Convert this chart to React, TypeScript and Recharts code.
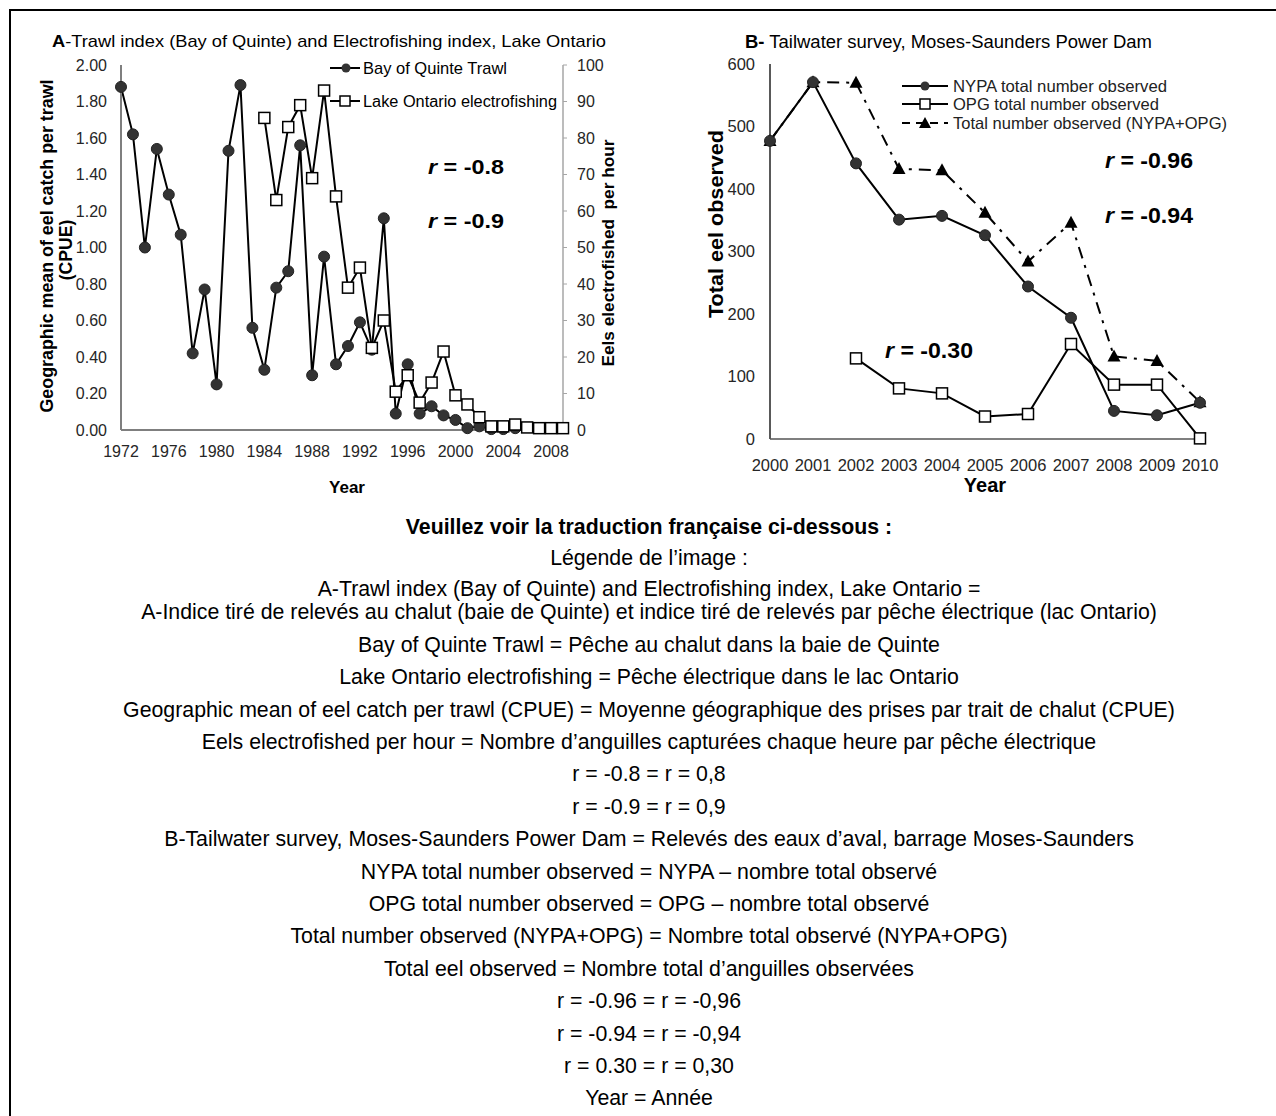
import React from 'react';
import { LineChart, Line, XAxis, YAxis } from 'recharts';

// ---------- Panel A data ----------
const yearsA = [1972, 1973, 1974, 1975, 1976, 1977, 1978, 1979, 1980, 1981, 1982, 1983, 1984, 1985, 1986, 1987, 1988, 1989, 1990, 1991, 1992, 1993, 1994, 1995, 1996, 1997, 1998, 1999, 2000, 2001, 2002, 2003, 2004, 2005, 2006, 2007, 2008, 2009];
const trawlCpue = [1.88, 1.62, 1.0, 1.54, 1.29, 1.07, 0.42, 0.77, 0.25, 1.53, 1.89, 0.56, 0.33, 0.78, 0.87, 1.56, 0.3, 0.95, 0.36, 0.46, 0.59, 0.44, 1.16, 0.09, 0.36, 0.09, 0.13, 0.08, 0.055, 0.01, 0.02, 0.005, 0.005, 0.01, null, null, null, null];
const electroPerHour = [null, null, null, null, null, null, null, null, null, null, null, null, 85.5, 63, 83, 89, 69, 93, 64, 39, 44.5, 22.5, 30, 10.5, 15, 7.5, 13, 21.5, 9.5, 7, 3.5, 1, 1, 1.5, 0.7, 0.5, 0.5, 0.5];
const yearTicksA = [1972, 1976, 1980, 1984, 1988, 1992, 1996, 2000, 2004, 2008];
const cpueTicks = [0, 0.2, 0.4, 0.6, 0.8, 1.0, 1.2, 1.4, 1.6, 1.8, 2.0];
const electroTicks = [0, 10, 20, 30, 40, 50, 60, 70, 80, 90, 100];

// ---------- Panel B data ----------
const yearsB = [2000, 2001, 2002, 2003, 2004, 2005, 2006, 2007, 2008, 2009, 2010];
const nypaObserved = [477, 571, 441, 351, 357, 326, 244, 194, 45, 38, 58];
const opgObserved = [null, null, 129, 81, 73, 36, 40, 152, 87, 87, 1];
const totalObserved = [477, 571, 570, 432, 430, 362, 284, 346, 132, 125, 59];
const eelTicks = [0, 100, 200, 300, 400, 500, 600];

// ---------- French caption ----------
const captionLines = [
  { t: 'Veuillez voir la traduction française ci-dessous :', b: true, y: 527 },
  { t: 'Légende de l’image :', y: 558 },
  { t: 'A-Trawl index (Bay of Quinte) and Electrofishing index, Lake Ontario =', y: 589 },
  { t: 'A-Indice tiré de relevés au chalut (baie de Quinte) et indice tiré de relevés par pêche électrique (lac Ontario)', y: 612 },
  { t: 'Bay of Quinte Trawl = Pêche au chalut dans la baie de Quinte', y: 645 },
  { t: 'Lake Ontario electrofishing = Pêche électrique dans le lac Ontario', y: 677 },
  { t: 'Geographic mean of eel catch per trawl (CPUE) = Moyenne géographique des prises par trait de chalut (CPUE)', y: 710 },
  { t: 'Eels electrofished per hour = Nombre d’anguilles capturées chaque heure par pêche électrique', y: 742 },
  { t: 'r = -0.8 = r = 0,8', y: 774 },
  { t: 'r = -0.9 = r = 0,9', y: 807 },
  { t: 'B-Tailwater survey, Moses-Saunders Power Dam = Relevés des eaux d’aval, barrage Moses-Saunders', y: 839 },
  { t: 'NYPA total number observed = NYPA – nombre total observé', y: 872 },
  { t: 'OPG total number observed = OPG – nombre total observé', y: 904 },
  { t: 'Total number observed (NYPA+OPG) = Nombre total observé (NYPA+OPG)', y: 936 },
  { t: 'Total eel observed = Nombre total d’anguilles observées', y: 969 },
  { t: 'r = -0.96 = r = -0,96', y: 1001 },
  { t: 'r = -0.94 = r = -0,94', y: 1034 },
  { t: 'r = 0.30 = r = 0,30', y: 1066 },
  { t: 'Year = Année', y: 1098 },
];

const dataA = yearsA.map((year, i) => ({ year, trawl: trawlCpue[i], electro: electroPerHour[i] }));
const dataB = yearsB.map((year, i) => ({ year, nypa: nypaObserved[i], opg: opgObserved[i], total: totalObserved[i] }));

const FONT = '"Liberation Sans", Arial, Helvetica, sans-serif';

const ok = (v: any) => typeof v === 'number' && !isNaN(v);

const SquareDot = (props: any) => {
  const { cx, cy, value, index } = props;
  if (!ok(cx) || !ok(cy) || value == null) return <g key={`s${index}`} />;
  return <rect key={`s${index}`} x={cx - 5.5} y={cy - 5.5} width={11} height={11} fill="#fff" stroke="#000" strokeWidth={1.5} />;
};
const CircleDot = (props: any) => {
  const { cx, cy, value, index } = props;
  if (!ok(cx) || !ok(cy) || value == null) return <g key={`c${index}`} />;
  return <circle key={`c${index}`} cx={cx} cy={cy} r={5.5} fill="#333" stroke="#222" strokeWidth={1} />;
};
const TriDot = (props: any) => {
  const { cx, cy, value, index } = props;
  if (!ok(cx) || !ok(cy) || value == null) return <g key={`t${index}`} />;
  return <polygon key={`t${index}`} points={`${cx},${cy - 7} ${cx - 6.5},${cy + 5} ${cx + 6.5},${cy + 5}`} fill="#000" />;
};

const tickStyle = { fill: '#262626', fontSize: 16, fontFamily: FONT };
const tickStyleB = { fill: '#262626', fontSize: 16.5, fontFamily: FONT };

export default function App() {
  return (
    <div style={{ position: 'fixed', left: 0, top: 0, width: 1276, height: 1116, overflow: 'hidden', background: '#fff', fontFamily: FONT }}>
      <div style={{ position: 'absolute', left: 9, top: 9, width: 1400, height: 1300, borderLeft: '2px solid #000', borderTop: '2px solid #000' }} />

      {/* Panel A */}
      <div style={{ position: 'absolute', left: 0, top: 0 }}>
        <LineChart width={620} height={500} data={dataA} margin={{ top: 65, right: 0, bottom: 40, left: 0 }}>
          <XAxis dataKey="year" type="number" domain={[1972, 2009]} ticks={yearTicksA} interval={0}
            axisLine={{ stroke: '#7f7f7f', strokeWidth: 2 }} tickLine={false} tickSize={6} tickMargin={10}
            tick={tickStyle} height={30} />
          <YAxis yAxisId="left" domain={[0, 2]} ticks={cpueTicks} interval={0} tickFormatter={(v: number) => v.toFixed(2)}
            width={121} axisLine={{ stroke: '#7f7f7f', strokeWidth: 2 }} tickLine={false} tickSize={6} tickMargin={8} tick={tickStyle} />
          <YAxis yAxisId="right" orientation="right" domain={[0, 100]} ticks={electroTicks} interval={0}
            width={57} axisLine={{ stroke: '#a6a6a6', strokeWidth: 1.5 }} tickLine={{ stroke: '#a6a6a6' }} tickSize={4} tickMargin={10} tick={tickStyle} />
          <Line yAxisId="left" dataKey="trawl" stroke="#000" strokeWidth={2} dot={CircleDot} activeDot={false} isAnimationActive={false} />
          <Line yAxisId="right" dataKey="electro" stroke="#000" strokeWidth={2} dot={SquareDot} activeDot={false} isAnimationActive={false} />
        </LineChart>
      </div>

      {/* Panel B */}
      <div style={{ position: 'absolute', left: 650, top: 0 }}>
        <LineChart width={570} height={500} data={dataB} margin={{ top: 64, right: 20, bottom: 21, left: 0 }}>
          <XAxis dataKey="year" type="number" domain={[2000, 2010]} ticks={yearsB} interval={0}
            axisLine={{ stroke: '#7f7f7f', strokeWidth: 2 }} tickLine={false} tickSize={6} tickMargin={14}
            tick={tickStyleB} height={40} />
          <YAxis domain={[0, 600]} ticks={eelTicks} interval={0} width={120}
            axisLine={{ stroke: '#595959', strokeWidth: 2 }} tickLine={false} tickSize={6} tickMargin={9} tick={tickStyleB} />
          <Line dataKey="total" stroke="#000" strokeWidth={2} strokeDasharray="12 7 3 7" dot={TriDot} activeDot={false} isAnimationActive={false} />
          <Line dataKey="nypa" stroke="#000" strokeWidth={2} dot={CircleDot} activeDot={false} isAnimationActive={false} />
          <Line dataKey="opg" stroke="#000" strokeWidth={2} dot={SquareDot} activeDot={false} isAnimationActive={false} />
        </LineChart>
      </div>

      {/* Overlay texts */}
      <svg width={1276} height={500} style={{ position: 'absolute', left: 0, top: 0, pointerEvents: 'none' }} fontFamily={FONT}>
        {/* Titles */}
        <text x={52} y={47} fontSize={17} fill="#000" textLength={554} lengthAdjust="spacingAndGlyphs">
          <tspan fontWeight="bold">A</tspan>-Trawl index (Bay of Quinte) and Electrofishing index, Lake Ontario
        </text>
        <text x={745} y={48} fontSize={17.5} fill="#000" textLength={407} lengthAdjust="spacingAndGlyphs">
          <tspan fontWeight="bold">B-</tspan> Tailwater survey, Moses-Saunders Power Dam
        </text>

        {/* Panel A legend */}
        <line x1={330} y1={68} x2={360} y2={68} stroke="#000" strokeWidth={2} />
        <circle cx={346} cy={68} r={4.5} fill="#333" />
        <text x={363} y={74} fontSize={16.4} textLength={144} lengthAdjust="spacingAndGlyphs">Bay of Quinte Trawl</text>
        <line x1={330} y1={101} x2={360} y2={101} stroke="#000" strokeWidth={2} />
        <rect x={340} y={96} width={10} height={10} fill="#fff" stroke="#000" strokeWidth={1.5} />
        <text x={363} y={107} fontSize={16} textLength={194} lengthAdjust="spacingAndGlyphs">Lake Ontario electrofishing</text>

        {/* Panel A axis labels */}
        <text transform="translate(52.5,246) rotate(-90)" textAnchor="middle" fontSize={17.6} fontWeight="bold" textLength={333} lengthAdjust="spacingAndGlyphs">Geographic mean of eel catch per trawl</text>
        <text transform="translate(72,250) rotate(-90)" textAnchor="middle" fontSize={17.6} fontWeight="bold">(CPUE)</text>
        <text transform="translate(614,253) rotate(-90)" textAnchor="middle" fontSize={17} fontWeight="bold" textLength={227} lengthAdjust="spacingAndGlyphs" xmlSpace="preserve">Eels electrofished  per hour</text>
        <text x={347} y={493} textAnchor="middle" fontSize={17} fontWeight="bold">Year</text>

        {/* Panel A r values */}
        <text x={428} y={174} fontSize={21} fontWeight="bold" textLength={76} lengthAdjust="spacingAndGlyphs"><tspan fontStyle="italic">r</tspan> = -0.8</text>
        <text x={428} y={228} fontSize={21} fontWeight="bold" textLength={76} lengthAdjust="spacingAndGlyphs"><tspan fontStyle="italic">r</tspan> = -0.9</text>

        {/* Panel B legend */}
        <line x1={902} y1={86} x2={948} y2={86} stroke="#000" strokeWidth={2} />
        <circle cx={925} cy={86} r={4.5} fill="#333" />
        <text x={953} y={91.5} fontSize={16.5} fill="#222" textLength={214} lengthAdjust="spacingAndGlyphs">NYPA total number observed</text>
        <line x1={902} y1={104} x2={948} y2={104} stroke="#000" strokeWidth={2} />
        <rect x={920} y={99} width={10} height={10} fill="#fff" stroke="#000" strokeWidth={1.5} />
        <text x={953} y={109.5} fontSize={16.5} fill="#222" textLength={206} lengthAdjust="spacingAndGlyphs">OPG total number observed</text>
        <line x1={902} y1={123} x2={948} y2={123} stroke="#000" strokeWidth={2} strokeDasharray="8 6" />
        <polygon points="925,117 919,128 931,128" fill="#000" />
        <text x={953} y={128.5} fontSize={16.5} fill="#222" textLength={274} lengthAdjust="spacingAndGlyphs">Total number observed (NYPA+OPG)</text>

        {/* Panel B axis labels */}
        <text transform="translate(723,224) rotate(-90)" textAnchor="middle" fontSize={21} fontWeight="bold" textLength={188} lengthAdjust="spacingAndGlyphs">Total eel observed</text>
        <text x={985} y={492} textAnchor="middle" fontSize={20} fontWeight="bold">Year</text>

        {/* Panel B r values */}
        <text x={1105} y={167.5} fontSize={21.5} fontWeight="bold" textLength={88} lengthAdjust="spacingAndGlyphs"><tspan fontStyle="italic">r</tspan> = -0.96</text>
        <text x={1105} y={222.5} fontSize={21.5} fontWeight="bold" textLength={88} lengthAdjust="spacingAndGlyphs"><tspan fontStyle="italic">r</tspan> = -0.94</text>
        <text x={885} y={357.5} fontSize={21.5} fontWeight="bold" textLength={88} lengthAdjust="spacingAndGlyphs"><tspan fontStyle="italic">r</tspan> = -0.30</text>
      </svg>

      {/* French caption */}
      {captionLines.map((l, i) => (
        <div key={i} style={{ position: 'absolute', left: 0, width: 1298, top: l.y - 13, lineHeight: '26px', fontSize: 21.3, textAlign: 'center', fontWeight: l.b ? 'bold' : 'normal', color: '#000', whiteSpace: 'nowrap' }}>
          {l.t}
        </div>
      ))}
    </div>
  );
}
